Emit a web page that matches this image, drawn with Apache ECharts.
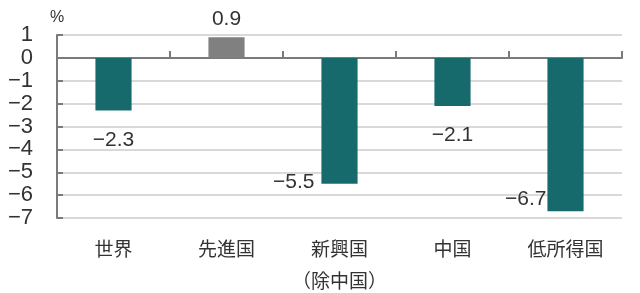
<!DOCTYPE html>
<html><head><meta charset="utf-8">
<script src="https://cdn.jsdelivr.net/npm/echarts@6/dist/echarts.min.js"></script>
<style>html,body{margin:0;padding:0;background:#fff}#c{width:640px;height:293px}</style>
</head><body><div id="c"></div>
<script>
const categories = ['世界', '先進国', '新興国\n（除中国）', '中国', '低所得国'];
const values = [-2.3, 0.9, -5.5, -2.1, -6.7];
const yTicks = [1, 0, -1, -2, -3, -4, -5, -6, -7];

const TEAL = '#176a6c', GRAY = '#808080';
const FONT = "'Liberation Sans', 'Noto Sans CJK JP', sans-serif";
const fmt = v => String(v).replace('-', '−');

const labelCfg = [
  {position: 'bottom', distance: 19},
  {position: 'top', distance: 8},
  {position: 'left', distance: 7, offset: [0, 61]},
  {position: 'bottom', distance: 19},
  {position: 'left', distance: 1, offset: [0, 65]}
];

const data = values.map((v, i) => ({
  value: v,
  itemStyle: {color: v >= 0 ? GRAY : TEAL},
  label: Object.assign({show: true, formatter: p => fmt(p.value), fontSize: 21, color: '#333', fontFamily: FONT}, labelCfg[i])
}));

const chart = echarts.init(document.getElementById('c'), null, {renderer: 'canvas'});
chart.setOption({
  animation: false,
  grid: {left: 57, right: 18, top: 35, bottom: 75, containLabel: false, outerBoundsMode: 'none'},
  xAxis: [{
    type: 'category', data: categories, position: 'bottom',
    axisLine: {onZero: true, lineStyle: {color: '#7a7a7a', width: 2}},
    axisTick: {show: true, inside: true, length: 7, lineStyle: {color: '#7a7a7a', width: 2}},
    axisLabel: {show: false}, splitLine: {show: false}
  }, {
    type: 'category', data: categories, position: 'bottom',
    axisLine: {show: false, onZero: false}, axisTick: {show: false},
    axisLabel: {show: true, margin: 17, fontSize: 19, lineHeight: 32, color: '#333', fontFamily: FONT, interval: 0}
  }],
  yAxis: {
    type: 'value', min: -7, max: 1, interval: 1,
    name: '%', nameLocation: 'end', nameGap: 9,
    nameTextStyle: {fontSize: 16, color: '#333', fontFamily: FONT, align: 'center'},
    axisLine: {show: true, lineStyle: {color: '#7a7a7a', width: 2}},
    axisTick: {show: true, inside: true, length: 6, lineStyle: {color: '#7a7a7a', width: 2}},
    axisLabel: {fontSize: 22, color: '#333', margin: 24, fontFamily: FONT, formatter: v => fmt(v)},
    splitLine: {show: true, lineStyle: {color: '#d9d9d9', width: 2}}
  },
  series: [{
    type: 'bar', xAxisIndex: 0, data: data, barWidth: '32%'
  }]
});
</script></body></html>
